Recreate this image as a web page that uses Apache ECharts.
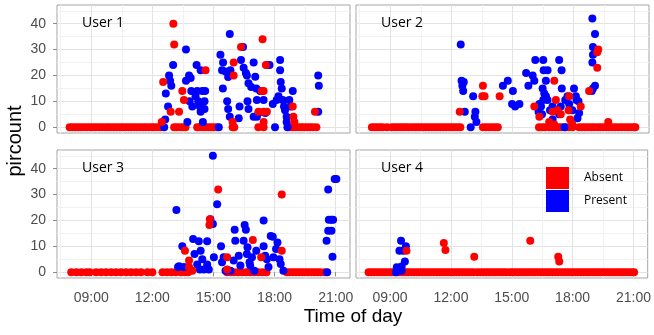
<!DOCTYPE html>
<html>
<head>
<meta charset="utf-8">
<script src="https://cdn.jsdelivr.net/npm/echarts@6/dist/echarts.min.js"></script>
<style>
  html, body { margin: 0; padding: 0; background: #fff; }
  #chart { width: 654px; height: 335px; }
</style>
</head>
<body>
<div id="chart"></div>
<script>
const users = ['User 1', 'User 2', 'User 3', 'User 4']
const xTicks = [9, 12, 15, 18, 21]
const xMinor = [7.5, 10.5, 13.5, 16.5, 19.5]
const yTicks = [0, 10, 20, 30, 40]
const yMinor = [5, 15, 25, 35, 45]

// times (hours) where the count is 0 and the state is absent
const u1AbsentZero = [7.94, 8.08, 8.22, 8.37, 8.51, 8.66, 8.8, 8.95, 9.09, 9.23, 9.38, 9.52, 9.67, 9.81, 9.95, 10.1, 10.24, 10.39, 10.53, 10.67, 10.82, 10.96, 11.11, 11.25, 11.39, 11.54, 11.68, 11.83, 11.97, 12.11, 12.26, 12.41, 13.07, 13.2, 13.35, 13.5, 13.63, 14.2, 14.33, 14.47, 14.6, 14.74, 14.88, 15.02, 15.18, 15.94, 16.02, 17.2, 17.46, 18.76, 18.9, 19.04, 19.18, 19.32, 19.46, 19.6, 19.74, 19.88, 20.05]
const u2AbsentZero = [8.1, 8.23, 8.37, 8.5, 8.63, 8.84, 9.08, 9.22, 9.36, 9.5, 9.63, 9.77, 9.9, 10.06, 10.2, 10.34, 10.48, 10.62, 10.76, 10.9, 11.04, 11.18, 11.32, 11.46, 11.6, 11.74, 11.88, 12.02, 12.16, 12.3, 12.44, 13.55, 13.7, 13.85, 14.0, 14.14, 14.28, 16.3, 16.45, 16.6, 16.8, 16.95, 17.1, 17.25, 17.4, 17.6, 17.75, 17.94, 18.27, 18.42, 18.57, 18.72, 18.87, 19.0, 19.16, 19.3, 19.45, 19.6, 19.75, 19.9, 20.05, 20.2, 20.35, 20.5, 20.65, 20.8, 20.95, 21.03]
const u3AbsentZero = [8.02, 8.27, 8.51, 8.76, 8.92, 9.24, 9.49, 9.73, 9.98, 10.22, 10.46, 10.71, 10.95, 11.2, 11.44, 11.76, 12.0, 12.5, 12.72, 12.93, 13.15, 13.4, 13.6, 13.75, 15.67, 15.85, 16.0, 16.2, 16.4, 16.6, 16.8, 17.0, 17.2, 17.4, 17.6, 18.6, 18.75, 18.9, 19.05, 19.2, 19.35, 19.5, 19.65, 19.8, 19.95, 20.1, 20.25, 20.46]
const u4AbsentZero = [7.94, 8.08, 8.22, 8.36, 8.5, 8.64, 8.78, 8.92, 9.06, 9.2, 9.34, 9.48, 9.62, 9.76, 9.9, 10.04, 10.18, 10.32, 10.46, 10.6, 10.74, 10.88, 11.02, 11.16, 11.3, 11.44, 11.58, 11.72, 11.86, 12.0, 12.14, 12.28, 12.42, 12.56, 12.7, 12.84, 12.98, 13.12, 13.3, 13.45, 13.6, 13.74, 13.88, 14.02, 14.16, 14.3, 14.44, 14.58, 14.72, 14.9, 15.04, 15.18, 15.32, 15.46, 15.6, 15.74, 15.88, 16.02, 16.16, 16.3, 16.44, 16.58, 16.72, 16.86, 17.0, 17.14, 17.28, 17.42, 17.56, 17.7, 17.84, 17.98, 18.12, 18.26, 18.4, 18.54, 18.68, 18.82, 18.96, 19.1, 19.24, 19.38, 19.52, 19.66, 19.8, 19.94, 20.08, 20.22, 20.36, 20.5, 20.64, 20.78, 20.92, 21.03]

// [time, count] absent readings above 0
const u1Absent = [[12.46, 2], [12.53, 17.5], [13.03, 40], [13.07, 32], [12.9, 6], [13.31, 6], [13.47, 14], [13.55, 10.5], [14.61, 22], [15.99, 25], [15.99, 20], [15.94, 2], [16.35, 31], [17.41, 34], [17.37, 14], [17.46, 14], [17.21, 6], [17.46, 6], [17.62, 6], [17.46, 2], [17.57, 24], [18.89, 8], [18.92, 4], [18.97, 2], [19.98, 6]]
const u2Absent = [[12.41, 6], [13.55, 16], [13.52, 12], [13.63, 12], [14.37, 12], [16.07, 8], [16.32, 4], [17.05, 18], [17.13, 10.5], [17.21, 6.5], [16.97, 6], [16.8, 2], [17.05, 1], [17.37, 5], [17.78, 12], [17.75, 6.5], [17.83, 3], [17.94, 1], [18.35, 8], [19.16, 29], [19.21, 30], [19.16, 23], [18.76, 14], [19.7, 2]]
const u3Absent = [[13.6, 8.3], [13.8, 4.5], [13.8, 2], [13.96, 0.6], [14.82, 20.5], [14.8, 18.2], [15.23, 32], [15.67, 5.8], [15.67, 1], [16.93, 12.4], [17.34, 5.8], [18.35, 8.3], [18.35, 30]]
const u4Absent = [[9.81, 8.3], [11.65, 11.3], [11.73, 8.6], [13.15, 6], [15.91, 12.2], [17.29, 6], [17.34, 4.1]]

// [time, count] present readings
const u1Present = [[12.58, 0], [12.63, 3], [12.66, 13], [12.77, 8], [12.82, 20], [12.87, 18], [12.93, 16], [13.02, 24], [13.65, 30], [13.72, 2], [13.65, 18], [13.8, 20], [13.88, 19], [13.91, 14], [13.83, 10], [13.96, 8], [14.12, 12], [14.17, 24], [14.2, 14], [14.25, 10], [14.33, 8], [14.37, 22], [14.45, 14], [14.48, 2], [14.56, 10], [14.59, 14], [14.56, 7], [14.37, 6], [15.26, 0], [15.34, 28], [15.47, 25], [15.42, 22], [15.46, 15], [15.59, 21.5], [15.72, 19.4], [15.8, 36], [15.83, 22], [15.67, 10], [15.72, 7], [15.8, 4], [16.24, 3.5], [16.28, 8], [16.35, 26], [16.45, 31], [16.48, 23], [16.59, 21], [16.64, 20], [16.72, 17], [16.67, 10], [16.72, 7], [16.85, 15.5], [16.97, 25], [17.05, 19.5], [17.1, 15], [17.13, 10.5], [17.21, 5.5], [16.97, 4], [17.13, 4], [17.29, 14], [17.46, 10.5], [17.54, 5.5], [17.62, 24], [17.75, 24], [17.91, 9], [18.02, 0], [18.1, 10.5], [18.19, 12], [18.27, 26], [18.27, 22], [18.3, 17.5], [18.35, 15], [18.4, 10.5], [18.46, 8], [18.51, 6.5], [18.59, 4], [18.59, 2], [18.63, 0], [18.72, 10.5], [18.79, 8], [18.89, 14], [20.14, 20], [20.17, 16], [20.14, 6]]
const u2Present = [[12.46, 32], [12.5, 18], [12.61, 17.5], [12.54, 16], [12.58, 14], [12.66, 6], [12.95, 0], [13.07, 12], [13.18, 6], [13.15, 4], [13.23, 2], [14.53, 16], [14.77, 18], [15.02, 14], [14.98, 9], [15.13, 8], [15.34, 9], [15.67, 21], [15.78, 16], [15.99, 20], [16.07, 18], [16.12, 26], [16.51, 26], [16.53, 22], [16.72, 22], [16.64, 18], [16.48, 15], [16.56, 13], [16.64, 12], [16.72, 10.5], [16.51, 10.5], [16.32, 9], [16.4, 8], [16.28, 6], [16.45, 5], [17.29, 26], [17.41, 22], [17.42, 15], [16.97, 3], [16.84, 6.5], [16.97, 8], [17.13, 6.5], [17.29, 5], [17.37, 8], [17.59, 10.5], [17.7, 12], [17.78, 9], [17.94, 6.5], [18.11, 12], [18.02, 15], [18.14, 10.5], [18.24, 10], [18.27, 5.5], [18.19, 3.5], [17.55, 0], [18.92, 42], [19.05, 36], [18.95, 31], [19.08, 29.5], [18.95, 28], [18.92, 25], [19.05, 16], [18.95, 15], [18.89, 14]]
const u3Present = [[13.18, 24], [13.26, 2], [13.31, 2.3], [13.47, 10], [13.55, 2], [14.0, 12.8], [14.07, 7], [14.2, 3], [14.28, 12], [14.37, 8.3], [14.45, 5], [14.33, 1], [14.53, 1], [14.69, 12], [14.69, 3], [14.77, 1], [14.85, 20.5], [14.97, 45], [14.97, 18.6], [15.02, 5.8], [15.18, 26.3], [15.37, 10], [15.42, 3.8], [15.5, 5.8], [15.59, 0.6], [15.83, 0.6], [15.99, 4.5], [16.04, 16.4], [16.07, 12.2], [16.24, 6.4], [16.32, 2.6], [16.48, 12.2], [16.53, 18.2], [16.59, 16.4], [16.64, 7], [16.67, 9.6], [16.77, 3.8], [16.8, 2.6], [16.89, 5.8], [17.0, 0.6], [17.1, 8.3], [17.46, 20], [17.46, 10], [17.54, 6.4], [17.62, 5], [17.7, 2], [17.81, 14], [17.91, 13.7], [17.94, 5.8], [18.07, 9], [18.14, 11.5], [18.24, 5], [18.3, 3.2], [18.43, 0.6], [20.63, 32], [20.55, 12.2], [20.66, 20.3], [20.79, 20.3], [20.87, 20.3], [20.63, 16], [20.79, 16], [20.84, 6], [20.95, 36], [21.03, 36], [20.58, 0]]
const u4Present = [[9.54, 12.2], [9.46, 8.3], [9.65, 8.3], [9.78, 10], [9.73, 4.1], [9.57, 2.2], [9.33, 1.9], [9.41, 1], [9.57, 0.6], [9.29, 0]]

const absentZero = [u1AbsentZero, u2AbsentZero, u3AbsentZero, u4AbsentZero]
const absent = [u1Absent, u2Absent, u3Absent, u4Absent]
const present = [u1Present, u2Present, u3Present, u4Present]

const panels = [
  { left: 57, top: 5, xLabel: false, yLabel: true },
  { left: 356, top: 5, xLabel: false, yLabel: false },
  { left: 57, top: 150, xLabel: true, yLabel: true },
  { left: 356, top: 150, xLabel: true, yLabel: false }
]
const font = 'Liberation Sans'

let chart = echarts.init(document.getElementById('chart'))

let grid = [], xAxis = [], yAxis = [], series = [], graphic = []
panels.forEach((p, i) => {
  grid.push({
    left: p.left, top: p.top, width: 293, height: 128,
    show: true, borderColor: '#a5a5a5', borderWidth: 1, backgroundColor: '#fff'
  })
  // main axes
  xAxis.push({
    gridIndex: i, type: 'value', min: 7.32, max: 21.7,
    axisLine: { show: false },
    axisTick: { show: p.xLabel, customValues: xTicks, length: 4, lineStyle: { color: '#8a8a8a' } },
    axisLabel: {
      show: p.xLabel, customValues: xTicks, margin: 13, color: '#4d4d4d', fontSize: 14, fontFamily: font,
      formatter: v => (v < 10 ? '0' : '') + v + ':00'
    },
    splitLine: { show: true, lineStyle: { color: '#e3e3e3', width: 1 } }
  })
  yAxis.push({
    gridIndex: i, type: 'value', min: -2.25, max: 47.25,
    axisLine: { show: false },
    axisTick: { show: p.yLabel, customValues: yTicks, length: 4, lineStyle: { color: '#8a8a8a' } },
    axisLabel: { show: p.yLabel, customValues: yTicks, margin: 11, color: '#4d4d4d', fontSize: 14, fontFamily: font },
    splitLine: { show: true, lineStyle: { color: '#e3e3e3', width: 1 } }
  })
  // minor grid lines
  xAxis.push({
    gridIndex: i, type: 'value', min: 7.32, max: 21.7, position: 'top',
    axisLine: { show: false }, axisLabel: { show: false },
    axisTick: { show: false, customValues: xMinor },
    splitLine: { show: true, lineStyle: { color: '#f1f1f1', width: 1 } }
  })
  yAxis.push({
    gridIndex: i, type: 'value', min: -2.25, max: 47.25, position: 'right',
    axisLine: { show: false }, axisLabel: { show: false },
    axisTick: { show: false, customValues: yMinor },
    splitLine: { show: true, lineStyle: { color: '#f1f1f1', width: 1 } }
  })

  let base = { type: 'scatter', xAxisIndex: i * 2, yAxisIndex: i * 2, symbolSize: 8, animation: false }
  series.push(Object.assign({}, base, {
    name: 'Absent', itemStyle: { color: '#ff0000', opacity: 1 },
    data: absentZero[i].map(t => [t, 0])
  }))
  series.push(Object.assign({}, base, {
    name: 'Present', itemStyle: { color: '#0000ff', opacity: 1 },
    data: present[i]
  }))
  series.push(Object.assign({}, base, {
    name: 'Absent', itemStyle: { color: '#ff0000', opacity: 1 },
    data: absent[i]
  }))

  graphic.push({
    type: 'text', left: p.left + 25, top: p.top + 11, z: 10,
    style: { text: users[i], fontSize: 14, fontFamily: 'Open Sans', fill: '#000', stroke: null, lineWidth: 0 }
  })
})

graphic.push({
  type: 'text', x: 15, y: 141, rotation: Math.PI / 2,
  style: { text: 'pircount', fontSize: 20, fontFamily: font, fill: '#000', align: 'center', verticalAlign: 'middle' }
})
graphic.push({
  type: 'text', x: 353, y: 317,
  style: { text: 'Time of day', fontSize: 19, fontFamily: font, fill: '#000', align: 'center', verticalAlign: 'middle' }
})

chart.setOption({
  backgroundColor: '#fff',
  animation: false,
  grid: grid,
  xAxis: xAxis,
  yAxis: yAxis,
  legend: {
    orient: 'vertical', left: 541, top: 162,
    itemWidth: 23, itemHeight: 22, itemGap: 1, icon: 'rect',
    selectedMode: false,
    data: ['Absent', 'Present'],
    textStyle: { fontSize: 12, fontFamily: 'Open Sans', color: '#000', padding: [0, 0, 0, 10] }
  },
  graphic: graphic,
  series: series
})
</script>
</body>
</html>
